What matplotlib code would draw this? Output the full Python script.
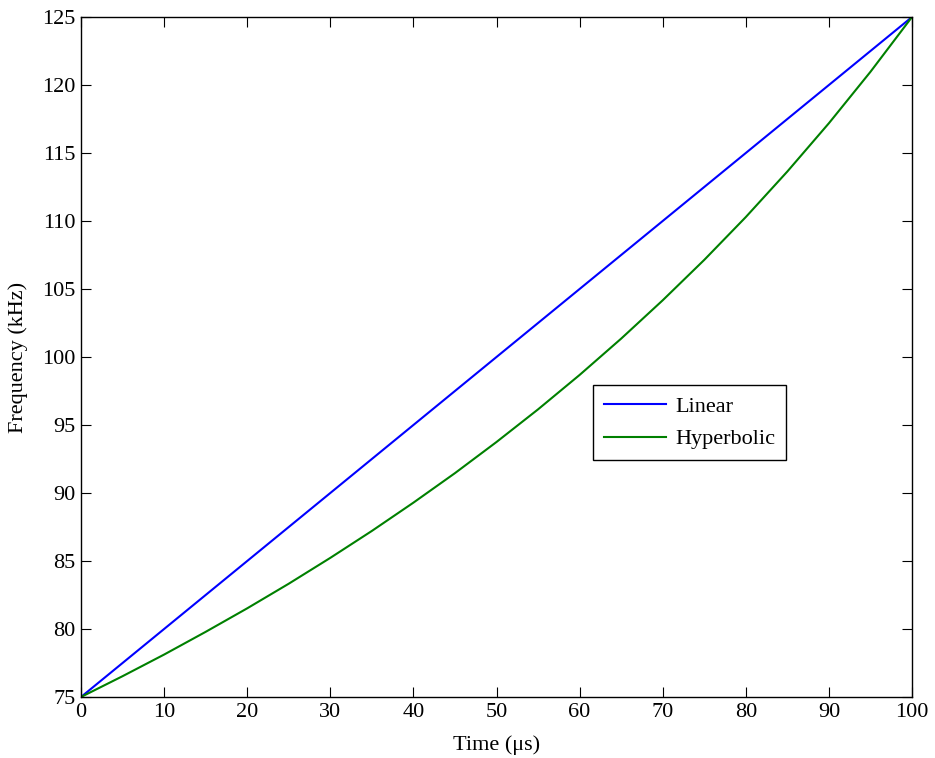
import numpy as np
import matplotlib
matplotlib.use('Agg')
import matplotlib.pyplot as plt

plt.rcParams['font.family'] = ['Liberation Serif', 'DejaVu Serif']

# time (us)
t = [0, 5, 10, 15, 20, 25, 30, 35, 40, 45, 50, 55, 60, 65, 70, 75, 80, 85, 90, 95, 100]
# linear sweep (kHz)
f_lin = [75, 77.5, 80, 82.5, 85, 87.5, 90, 92.5, 95, 97.5, 100,
         102.5, 105, 107.5, 110, 112.5, 115, 117.5, 120, 122.5, 125]
# hyperbolic sweep (kHz)
f_hyp = [75, 76.53, 78.12, 79.79, 81.52, 83.33, 85.23, 87.21, 89.29, 91.46, 93.75,
         96.15, 98.68, 101.35, 104.17, 107.14, 110.29, 113.64, 117.19, 120.97, 125]

fig = plt.figure(figsize=(9.35, 7.58), dpi=100)
ax = fig.add_axes([81/935, 1 - 697/758, 831/935, 680/758])

ax.plot(t, f_lin, color=(0, 0, 1), lw=1.5, label='Linear')
ax.plot(t, f_hyp, color=(0, 0.5, 0), lw=1.5, label='Hyperbolic')

ax.set_xlim(0, 100)
ax.set_ylim(75, 125)
ax.set_xticks(range(0, 101, 10))
ax.set_yticks(range(75, 126, 5))
ax.tick_params(direction='in', top=True, right=True, length=7, labelsize=16, pad=4)
for s in ax.spines.values():
    s.set_linewidth(1.0)

ax.set_xlabel('Time (\u03bcs)', fontsize=16, labelpad=10)
ax.set_ylabel('Frequency (kHz)', fontsize=16, labelpad=10)

leg = ax.legend(loc='upper left', bbox_to_anchor=(0.616, 0.459), fontsize=16,
                fancybox=False, framealpha=1, edgecolor='k', handlelength=2.8,
                handletextpad=0.4, borderpad=0.5, labelspacing=0.55,
                borderaxespad=0)
leg.get_frame().set_linewidth(1.0)

fig.savefig('out.png', dpi=100)
